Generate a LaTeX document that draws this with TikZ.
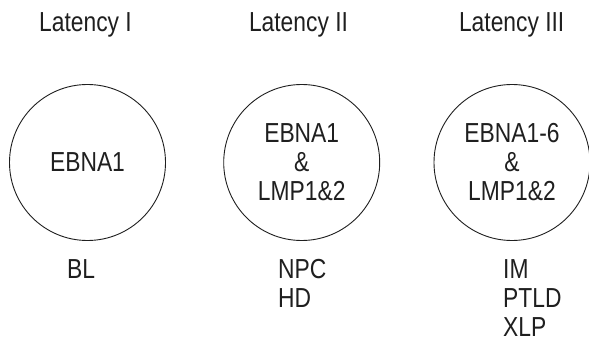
\documentclass[tikz,border=0pt]{standalone}
\usepackage{fontspec}
\setmainfont{Liberation Sans}[FakeStretch=0.83]
\begin{document}
\begin{tikzpicture}[x=1pt,y=-1pt,
  every node/.style={font=\fontsize{27.5}{29}\selectfont, text=black!88, inner sep=0pt},
  title/.style={anchor=base},
  lat/.style={circle, draw=black!88, line width=0.9pt, minimum size=156pt, align=center},
  disease/.style={anchor=north west, align=left}]
\useasboundingbox (0,0) rectangle (589,342);
\fill[white] (0,0) rectangle (589,342);
% titles
\node[title] (t1) at (85.5,32) {Latency I};
\node[title] (t2) at (298.5,32) {Latency II};
\node[title] (t3) at (511.7,32) {Latency III};
% circles
\node[lat] (c1) at (87.5,162.5) {EBNA1};
\node[lat] (c2) at (301.7,162.5) {EBNA1\\\&\\LMP1\&2};
\node[lat] (c3) at (512,162.5) {EBNA1-6\\\&\\LMP1\&2};
% diseases
\node[disease] (d1) at (67,259.5) {BL};
\node[disease] (d2) at (278,259.5) {NPC\\HD};
\node[disease] (d3) at (503,259.5) {IM\\PTLD\\XLP};
\end{tikzpicture}
\end{document}
